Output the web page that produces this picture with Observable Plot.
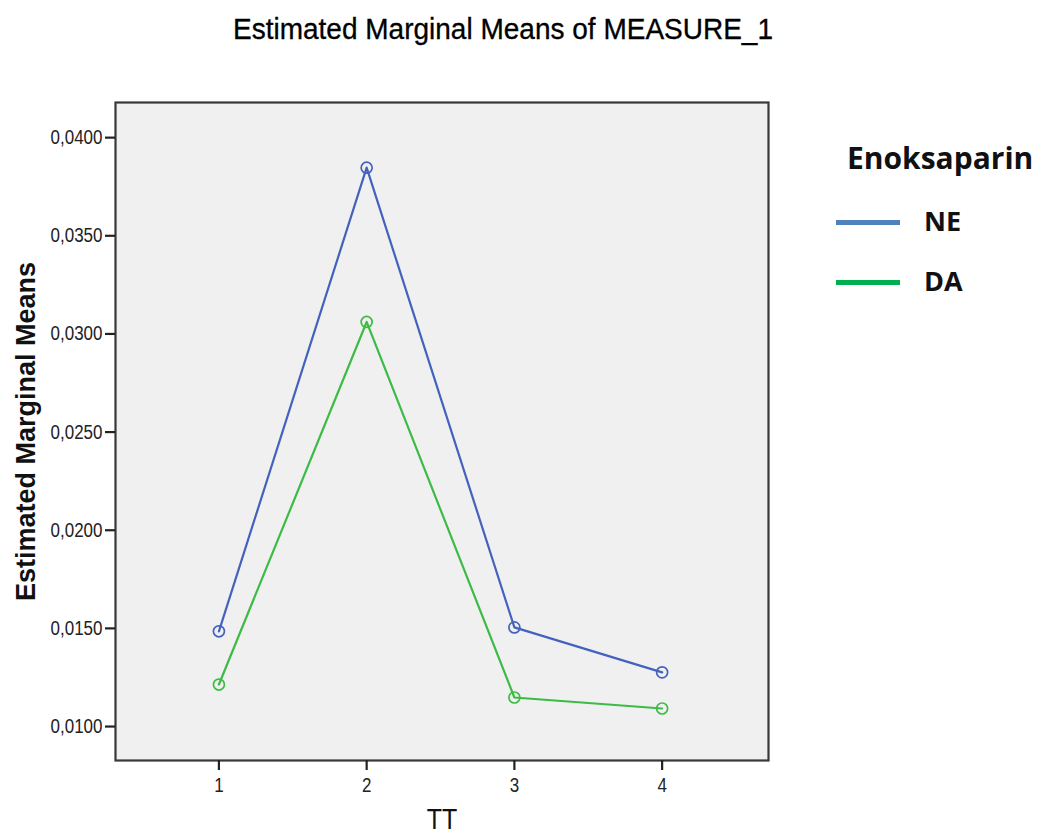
<!DOCTYPE html>
<html><head><meta charset="utf-8">
<script src="https://cdn.jsdelivr.net/npm/d3@7"></script>
<script src="https://cdn.jsdelivr.net/npm/@observablehq/plot@0.6"></script>
<style>
body{margin:0;background:#fff;font-family:"Liberation Sans",Arial,sans-serif;}
#wrap{position:relative;width:1043px;height:838px;}
#title{position:absolute;left:0;width:1006px;top:13px;text-align:center;font-size:28px;color:#000;transform:scaleY(1.08);-webkit-text-stroke:0.3px #000;}
#legend{position:absolute;left:836px;top:140px;font-family:"Open Sans","Liberation Sans",sans-serif;}
.lt{font-weight:bold;font-size:30px;color:#111;position:absolute;left:11px;top:-3px;white-space:nowrap;}
.li{position:absolute;left:0;width:64px;height:5px;}
.ll{position:absolute;left:88px;font-weight:bold;font-size:27px;color:#111;}
#chart g[aria-label="x-axis tick label"] text,
#chart g[aria-label="y-axis tick label"] text{font-size:17px;fill:#222;}
</style></head>
<body><div id="wrap"><div id="title"></div><div id="chart"></div><div id="legend"></div></div>
<script>
const titleText = "Estimated Marginal Means of MEASURE_1";
const xLabel = "TT";
const yLabel = "Estimated Marginal Means";
const legendTitle = "Enoksaparin";
const tt = [1, 2, 3, 4];
const groups = ["NE", "DA"];
const neValues = [0.01485, 0.03847, 0.01505, 0.01276];
const daValues = [0.01214, 0.03061, 0.01148, 0.01092];
const yTicks = [0.010, 0.015, 0.020, 0.025, 0.030, 0.035, 0.040];
const lineColors = ["#4462bd", "#3dbb45"];
const legendColors = ["#4f81bd", "#00b050"];

const data = [];
tt.forEach((t, i) => { data.push({tt: t, g: "NE", v: neValues[i]}); });
tt.forEach((t, i) => { data.push({tt: t, g: "DA", v: daValues[i]}); });

document.getElementById("title").textContent = titleText;

const fmt = d => d3.format(".4f")(d).replace(".", ",");

const plot = Plot.plot({
  width: 1043, height: 838,
  marginLeft: 115, marginRight: 275, marginTop: 102, marginBottom: 78,
  style: {fontFamily: "'Liberation Sans', Arial, sans-serif", fontSize: "17px", color: "#222", background: "transparent"},
  x: {domain: [0.30, 4.72], label: null},
  y: {domain: [0.00827, 0.04179], label: null},
  color: {domain: groups, range: lineColors},
  marks: [
    Plot.frame({fill: "#f0f0f0", stroke: "none"}),
    Plot.line(data, {x: "tt", y: "v", z: "g", stroke: "g", strokeWidth: 2.2}),
    Plot.dot(data, {x: "tt", y: "v", stroke: "g", r: 5.5, strokeWidth: 1.7, fill: "none"}),
    Plot.frame({stroke: "#383838", strokeWidth: 2.2}),
    Plot.axisX({ticks: tt, tickFormat: d => String(d), tickSize: 10, tickPadding: 7, strokeWidth: 2.2, stroke: "#222", label: null}),
    Plot.axisY({ticks: yTicks, tickFormat: fmt, tickSize: 10, tickPadding: 3, strokeWidth: 2.2, stroke: "#222", label: null}),
    Plot.text([xLabel], {frameAnchor: "bottom", lineAnchor: "bottom", dy: 68, text: d => d, fontSize: 25, fill: "#111", className: "ttlabel"}),
    Plot.text([yLabel], {frameAnchor: "left", textAnchor: "middle", dx: -89, rotate: -90, text: d => d, fontSize: 27, fontWeight: "bold", fill: "#111"})
  ]
});
document.getElementById("chart").appendChild(plot);

// stretch axis texts vertically like the reference
plot.querySelectorAll('g[aria-label="x-axis tick label"] text, g[aria-label="y-axis tick label"] text, .ttlabel text').forEach(el => {
  const tr = el.getAttribute("transform") || "";
  el.setAttribute("transform", tr + " scale(1,1.18)");
});

const lg = document.getElementById("legend");
const t = document.createElement("div"); t.className = "lt"; t.textContent = legendTitle; lg.appendChild(t);
groups.forEach((g, i) => {
  const sw = document.createElement("div"); sw.className = "li"; sw.style.top = (80 + i * 60) + "px"; sw.style.background = legendColors[i]; lg.appendChild(sw);
  const lb = document.createElement("div"); lb.className = "ll"; lb.style.top = (62 + i * 60) + "px"; lb.textContent = g; lg.appendChild(lb);
});
</script></body></html>
